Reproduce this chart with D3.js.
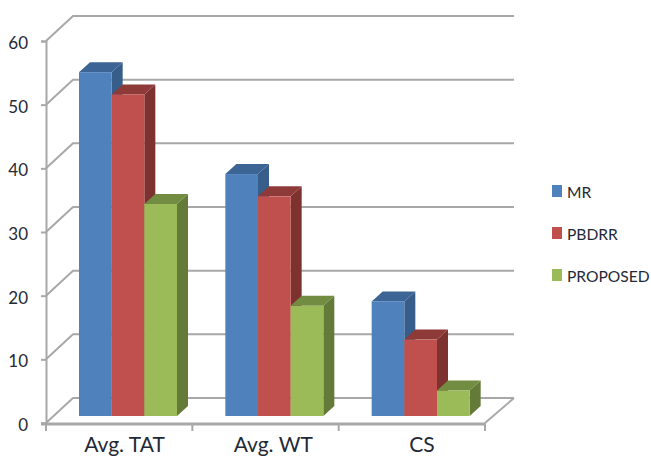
<!DOCTYPE html>
<html>
<head>
<meta charset="utf-8">
<script src="https://cdn.jsdelivr.net/npm/d3@7/dist/d3.min.js"></script>
<style>
html,body{margin:0;padding:0;background:#fff;overflow:hidden}
text{font-family:Lato,"Open Sans",sans-serif;fill:#1f2a36}
</style>
</head>
<body>
<svg id="chart" width="651" height="457"></svg>
<script>
const categories = ["Avg. TAT", "Avg. WT", "CS"];
const seriesNames = ["MR", "PBDRR", "PROPOSED"];
const mrValues = [54, 38, 18];
const pbdrrValues = [50.5, 34.5, 12];
const proposedValues = [33.3, 17.3, 4];
const yTicks = [0, 10, 20, 30, 40, 50, 60];

const seriesValues = [mrValues, pbdrrValues, proposedValues];
const faceColors = ["#4f81bd", "#c0504d", "#9bbb59"];
const topColors = ["#3c6494", "#8e3a38", "#728c42"];
const sideColors = ["#375d8a", "#7d3230", "#637a39"];
const gridColor = "#a8a8a8";

const svg = d3.select("#chart");

// Front plane of the 3D plot box, plus the offset to its back wall.
const plot = {left: 46, right: 485, base: 423, top: 41};
const wall = {dx: 27, dy: -25};
const bar = {dx: 11, dy: -10, lift: 7};

const y = d3.scaleLinear().domain([0, 60]).range([plot.base, plot.top]);
const x = d3.scaleBand().domain(categories).range([plot.left, plot.right]);
const inner = d3.scaleBand().domain(seriesNames).range([33, 131]);
const labelX = d3.scalePoint().domain(categories).range([124.5, 422]);

// Wall gridlines: each one runs up the side wall, then along the back.
const grid = svg.append("g").attr("fill", "none")
  .attr("stroke", gridColor).attr("stroke-width", 2);
grid.selectAll("path").data(yTicks).join("path")
  .attr("d", d => {
    const p = d3.path();
    p.moveTo(plot.left, y(d));
    p.lineTo(plot.left + wall.dx, y(d) + wall.dy);
    p.lineTo(plot.right + wall.dx + 2, y(d) + wall.dy);
    return p.toString();
  });
// Front-right edge of the floor.
grid.append("line")
  .attr("x1", plot.right).attr("y1", y(0))
  .attr("x2", plot.right + wall.dx + 2).attr("y2", y(0) + wall.dy);

// Value axis
const yAxis = svg.append("g").attr("transform", `translate(${plot.left},0)`)
  .call(d3.axisLeft(y).tickValues(yTicks).tickSize(5).tickPadding(13));
yAxis.select(".domain").attr("stroke", gridColor).attr("stroke-width", 2);
yAxis.selectAll(".tick line").attr("stroke", gridColor).attr("stroke-width", 2);
yAxis.selectAll("text").attr("font-size", 17).attr("font-family", "Lato").attr("dy", "0.45em");

// Category axis: ticks fall on band boundaries.
const xBoundaries = categories.map(c => x(c)).concat(plot.right);
const xBase = svg.append("g");
xBase.append("line")
  .attr("x1", plot.left - 5).attr("x2", plot.right)
  .attr("y1", y(0) + 1).attr("y2", y(0) + 1)
  .attr("stroke", gridColor).attr("stroke-width", 3);
xBase.selectAll(".boundary").data(xBoundaries).join("line")
  .attr("class", "boundary")
  .attr("x1", d => d).attr("x2", d => d)
  .attr("y1", y(0)).attr("y2", y(0) + 8)
  .attr("stroke", gridColor).attr("stroke-width", 2);
xBase.selectAll("text").data(categories).join("text")
  .attr("x", c => labelX(c))
  .attr("y", 452)
  .attr("text-anchor", "middle")
  .attr("font-size", 21)
  .text(c => c);

// Bars, drawn back-to-front within each cluster so the neighbour overlaps the side face.
const barY = v => y(v) - bar.lift;
const clusters = svg.append("g").selectAll("g").data(categories).join("g")
  .attr("transform", c => `translate(${x(c)},0)`);

clusters.each(function (c, ci) {
  const g = d3.select(this);
  seriesNames.forEach((name, si) => {
    const v = seriesValues[si][ci];
    const x0 = inner(name), x1 = x0 + inner.bandwidth();
    const t = barY(v), b = barY(0);
    g.append("polygon").attr("fill", sideColors[si])
      .attr("points", [[x1, t], [x1 + bar.dx, t + bar.dy], [x1 + bar.dx, b + bar.dy], [x1, b]].join(" "));
    g.append("polygon").attr("fill", topColors[si])
      .attr("points", [[x0, t], [x0 + bar.dx, t + bar.dy], [x1 + bar.dx, t + bar.dy], [x1, t]].join(" "));
    g.append("rect").attr("fill", faceColors[si])
      .attr("x", x0).attr("y", t)
      .attr("width", inner.bandwidth()).attr("height", b - t);
  });
});

// Legend
const legendY = d3.scalePoint().domain(seriesNames).range([191, 275]);
const legend = svg.append("g").selectAll("g").data(seriesNames).join("g")
  .attr("transform", d => `translate(552,${legendY(d)})`);
legend.append("rect").attr("x", 0).attr("y", -6).attr("width", 10).attr("height", 12)
  .attr("fill", (d, i) => faceColors[i]);
legend.append("text").attr("x", 15).attr("y", 6.5)
  .attr("font-size", 15.6)
  .text(d => d);
</script>
</body>
</html>
